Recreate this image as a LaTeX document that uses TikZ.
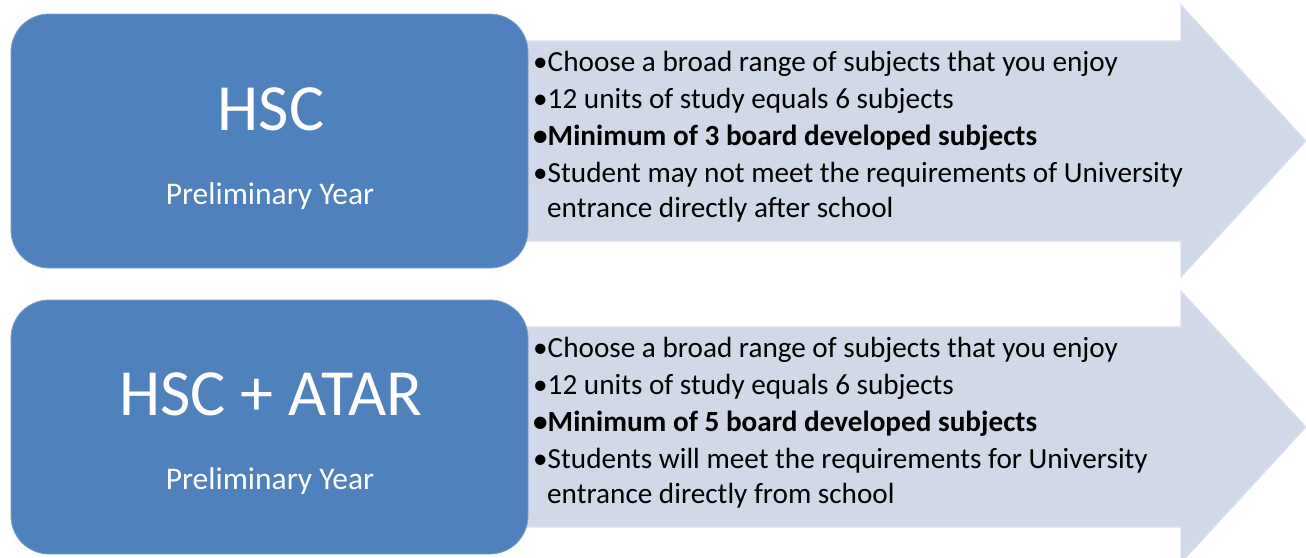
\documentclass[tikz,border=0pt]{standalone}
\usepackage{fontspec}
\setmainfont{Carlito}
\begin{document}
\definecolor{boxblue}{HTML}{4F81BD}
\definecolor{arrowfill}{HTML}{D1D9E9}
\definecolor{arrowedge}{HTML}{DAE1EE}
\begin{tikzpicture}[x=1pt,y=-1pt,
  stagebox/.style={fill=boxblue,draw=boxblue!75!white,line width=0.8pt,rounded corners=38pt},
  bigarrow/.style={fill=arrowfill,draw=arrowedge,line width=1.2pt,line join=miter},
  title/.style={text=white,font=\fontsize{66}{72}\selectfont,anchor=base,inner sep=0pt},
  subtitle/.style={text=white,font=\fontsize{31.5}{36}\selectfont,anchor=base,inner sep=0pt},
  item/.style={text=black,font=\fontsize{29.2}{34}\selectfont,anchor=base west,inner sep=0pt}]
\useasboundingbox (0,0) rectangle (1306,557);
\begin{scope}
\clip (0,0) rectangle (1306,557);
% arrows behind the boxes
\draw[bigarrow] (500,41) -- (1181,41) -- (1181,5) -- (1306,141) -- (1181,277) -- (1181,241) -- (500,241) -- cycle;
\draw[bigarrow] (500,327) -- (1181,327) -- (1181,291) -- (1306,427) -- (1181,563) -- (1181,527) -- (500,527) -- cycle;
\end{scope}
% stage boxes
\draw[stagebox] (11,14) rectangle (528,268);
\draw[stagebox] (11,300) rectangle (528,554);
% top row
\node[title] (t1) at (271,130) {HSC};
\node[subtitle] (s1) at (270,204) {Preliminary Year};
\node[item] (a1) at (533,71) {•Choose a broad range of subjects that you enjoy};
\node[item] (a2) at (533,108) {•12 units of study equals 6 subjects};
\node[item] (a3) at (533,145) {\bfseries •Minimum of 3 board developed subjects};
\node[item] (a4) at (533,182) {•Student may not meet the requirements of University};
\node[item] (a5) at (547,217) {entrance directly after school};
% bottom row
\node[title] (t2) at (271,415) {HSC + ATAR};
\node[subtitle] (s2) at (270,489) {Preliminary Year};
\node[item] (b1) at (533,357) {•Choose a broad range of subjects that you enjoy};
\node[item] (b2) at (533,394) {•12 units of study equals 6 subjects};
\node[item] (b3) at (533,431) {\bfseries •Minimum of 5 board developed subjects};
\node[item] (b4) at (533,468) {•Students will meet the requirements for University};
\node[item] (b5) at (547,503) {entrance directly from school};
\end{tikzpicture}
\end{document}
